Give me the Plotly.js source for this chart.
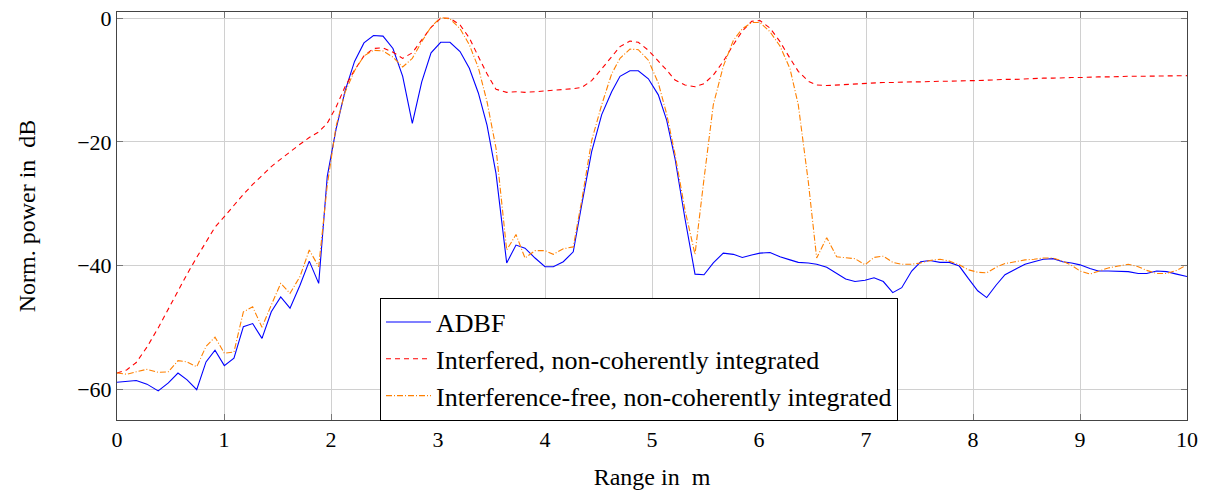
<!DOCTYPE html>
<html>
<head>
<meta charset="utf-8">
<script src="https://cdn.plot.ly/plotly-3.0.1.min.js"></script>
<style>html,body{margin:0;padding:0;background:#fff;}#chart{width:1208px;height:495px;}</style>
</head>
<body>
<div id="chart"></div>
<script>
const rangeM = [0, 0.09, 0.18, 0.28, 0.385, 0.48, 0.57, 0.655, 0.745, 0.832, 0.916, 1.003, 1.093, 1.181, 1.268, 1.355, 1.442, 1.53, 1.617, 1.71, 1.797, 1.885,
1.965, 2.047, 2.131, 2.22, 2.308, 2.397, 2.486, 2.579, 2.67, 2.76, 2.848, 2.935, 3.025, 3.112, 3.206, 3.293, 3.377, 3.458, 3.542, 3.642, 3.729,
3.813, 3.907, 4.0, 4.078, 4.171, 4.264, 4.343, 4.436, 4.53, 4.623, 4.701, 4.794, 4.872, 4.966, 5.059, 5.137, 5.215, 5.308, 5.402, 5.486,
5.573, 5.666, 5.76, 5.844, 5.932, 6.009, 6.103, 6.196, 6.29, 6.367, 6.461, 6.539, 6.633, 6.726, 6.81, 6.897, 6.991, 7.075, 7.162, 7.25, 7.334, 7.427, 7.511, 7.598, 7.692, 7.779, 7.872, 7.956, 8.044, 8.128, 8.215, 8.299, 8.393, 8.486, 8.57, 8.657, 8.75, 8.838, 8.922, 9.0, 9.093, 9.171, 9.264, 9.358, 9.451, 9.544, 9.623, 9.717, 9.81, 9.903, 10.0];

const adbf = [-58.9, -58.8, -58.6, -59.2, -60.3, -59.0, -57.4, -58.5, -60.1, -55.6, -53.7, -56.2, -55.0, -49.9, -49.4, -51.8, -47.5, -45.1, -46.9, -43.2, -39.3, -42.9,
-25.6, -18.0, -11.8, -7.0, -4.0, -2.8, -2.9, -4.9, -9.4, -17.0, -10.3, -5.6, -3.9, -3.9, -5.4, -8.1, -12.1, -17.3, -25.1, -39.6, -36.7,
-37.2, -38.8, -40.2, -40.2, -39.4, -37.8, -30.2, -21.6, -15.6, -11.9, -9.4, -8.5, -8.5, -9.8, -12.4, -16.5, -22.7, -32.4, -41.4, -41.5,
-39.6, -38.0, -38.2, -38.7, -38.3, -38.0, -37.9, -38.6, -39.1, -39.5, -39.6, -39.8, -40.3, -41.3, -42.2, -42.6, -42.4, -42.0, -42.6, -44.4, -43.6, -40.9, -39.4, -39.2, -39.5, -39.5, -40.1, -42.1, -44.1, -45.2, -43.2, -41.5, -40.6, -39.8, -39.4, -39.0, -38.9, -39.4, -39.6, -39.9, -40.5, -40.9, -40.9, -40.9, -41.0, -41.3, -41.3, -40.9, -41.0, -41.4, -41.8];

const interfered = [-57.4, -56.9, -55.7, -53.2, -50.1, -47.0, -44.0, -41.4, -38.7, -36.2, -33.8, -32.1, -30.2, -28.5, -26.9, -25.4, -24.0, -22.8, -21.6, -20.4, -19.3, -18.4,
-17.0, -14.4, -11.1, -8.4, -6.1, -4.9, -4.8, -5.5, -6.5, -5.6, -3.5, -1.5, 0.0, 0.0, -1.1, -3.2, -6.2, -9.0, -11.5, -12.0, -11.9,
-12.0, -11.9, -11.8, -11.7, -11.6, -11.4, -11.2, -10.1, -8.2, -6.2, -4.6, -3.7, -3.9, -5.2, -6.9, -8.4, -10.0, -10.8, -11.1, -10.6,
-9.2, -7.0, -4.3, -2.1, -0.5, -0.4, -1.6, -3.8, -6.5, -8.6, -10.2, -10.8, -10.9, -10.8, -10.7, -10.6, -10.5, -10.5, -10.4, -10.4, -10.3, -10.3, -10.3, -10.2, -10.2, -10.2, -10.1, -10.1, -10.1, -10.0, -10.0, -9.9, -9.9, -9.8, -9.8, -9.7, -9.7, -9.6, -9.6, -9.6, -9.5, -9.5, -9.5, -9.4, -9.4, -9.4, -9.4, -9.3, -9.3, -9.3, -9.3];

const interferenceFree = [-57.4, -57.6, -57.2, -56.8, -57.3, -57.2, -55.4, -55.6, -56.4, -53.1, -51.6, -54.2, -54.0, -47.5, -46.7, -50.0, -46.4, -42.9, -44.5, -41.8, -37.5, -40.2,
-27.0, -17.5, -12.0, -8.5, -6.1, -5.2, -5.3, -6.3, -7.9, -6.5, -3.8, -1.4, 0.1, -0.1, -1.7, -4.3, -8.0, -13.5, -21.0, -37.5, -35.0,
-38.8, -37.6, -37.6, -38.2, -37.3, -37.0, -29.5, -19.8, -14.0, -9.0, -6.5, -5.0, -5.1, -6.8, -10.5, -15.5, -22.0, -31.0, -38.2, -26.0,
-14.0, -7.8, -3.6, -1.7, -0.7, -0.7, -2.2, -4.5, -8.2, -14.0, -26.5, -38.8, -35.5, -38.6, -38.7, -38.9, -39.9, -38.7, -38.5, -39.5, -39.8, -39.8, -39.6, -39.2, -39.0, -39.3, -39.9, -40.7, -41.1, -41.2, -40.3, -39.7, -39.4, -39.1, -39.0, -38.8, -38.8, -39.3, -40.0, -40.9, -41.4, -40.9, -40.4, -40.1, -39.8, -40.2, -40.8, -41.3, -41.3, -40.8, -39.9];

const seriesNames = ['ADBF', 'Interfered, non-coherently integrated', 'Interference-free, non-coherently integrated'];
const xTicks = [0,1,2,3,4,5,6,7,8,9,10];
const yTicks = [-60,-40,-20,0];

const FONT = '"Liberation Serif", "DejaVu Serif", serif';

const traces = [
  {x: rangeM, y: adbf, name: seriesNames[0], mode: 'lines', line: {color: 'rgb(0,0,255)', width: 1.1}},
  {x: rangeM, y: interfered, name: seriesNames[1], mode: 'lines', line: {color: 'rgb(255,0,0)', width: 1.1, dash: '5px,4px'}},
  {x: rangeM, y: interferenceFree, name: seriesNames[2], mode: 'lines', line: {color: 'rgb(255,128,0)', width: 1.1, dash: '6px,2px,1px,2px'}}
];

const axisCommon = {
  showline: true, linecolor: '#444', linewidth: 1, mirror: 'ticks',
  ticks: 'inside', ticklen: 6, tickcolor: '#777', tickwidth: 1,
  showgrid: true, gridcolor: '#d0d0d0', gridwidth: 1, zeroline: false,
  tickfont: {family: FONT, size: 22, color: '#000'}
};

const layout = {
  width: 1208, height: 495,
  margin: {l: 117, r: 21, t: 12, b: 75},
  paper_bgcolor: '#fff', plot_bgcolor: '#fff',
  font: {family: FONT, size: 22, color: '#000'},
  showlegend: true,
  legend: {
    x: 0.2458, y: 0.3, xanchor: 'left', yanchor: 'top',
    bgcolor: '#fff', bordercolor: '#000', borderwidth: 1,
    font: {family: FONT, size: 26, color: '#000'},
    itemwidth: 45,
    tracegroupgap: 0
  },
  xaxis: Object.assign({}, axisCommon, {
    range: [0, 10], tickvals: xTicks, ticktext: xTicks.map(String),
    title: {text: 'Range in\u00a0 m', font: {family: FONT, size: 24, color: '#000'}, standoff: 16}
  }),
  yaxis: Object.assign({}, axisCommon, {
    range: [-65, 1], tickvals: yTicks,
    title: {text: 'Norm. power in\u00a0 dB', font: {family: FONT, size: 24, color: '#000'}, standoff: 34}
  })
};

Plotly.newPlot('chart', traces, layout, {staticPlot: true, displayModeBar: false});
</script>
</body>
</html>
